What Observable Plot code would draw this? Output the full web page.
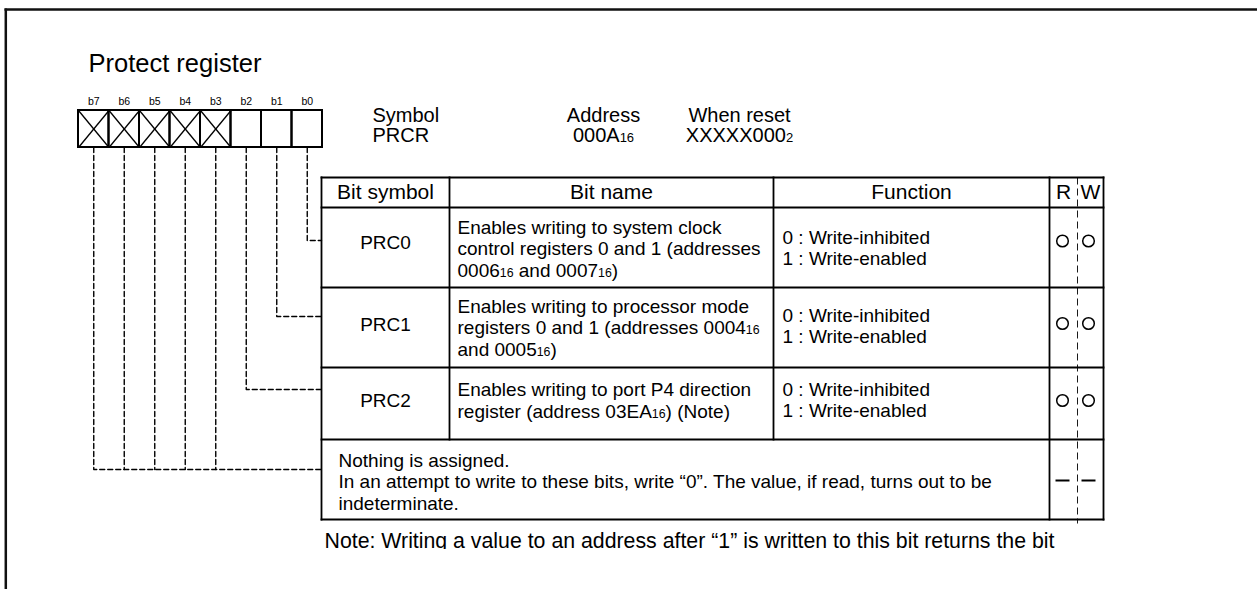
<!DOCTYPE html>
<html>
<head>
<meta charset="utf-8">
<script src="https://cdn.jsdelivr.net/npm/d3@7"></script>
<script src="https://cdn.jsdelivr.net/npm/@observablehq/plot@0.6"></script>
<style>
  html, body { margin: 0; padding: 0; background: #fff; }
  svg { display: block; }
</style>
</head>
<body>
<div id="chart"></div>
<script>
// ---------------- DATA ----------------
const title = "Protect register";
const bits = ["b7", "b6", "b5", "b4", "b3", "b2", "b1", "b0"];
const reserved = [true, true, true, true, true, false, false, false];
const bitRow = [3, 3, 3, 3, 3, 2, 1, 0]; // which table row each bit points to
const headerLabels = ["Symbol\nPRCR", "Address\n000A{16}", "When reset\nXXXXX000{2}"];
const columns = ["Bit symbol", "Bit name", "Function", "R", "W"];
const bitSymbols = ["PRC0", "PRC1", "PRC2"];
const bitNames = [
  "Enables writing to system clock\ncontrol registers 0 and 1 (addresses\n0006{16} and 0007{16})",
  "Enables writing to processor mode\nregisters 0 and 1 (addresses 0004{16}\nand 0005{16})",
  "Enables writing to port P4 direction\nregister (address 03EA{16}) (Note)"
];
const functions = [
  "0 : Write-inhibited\n1 : Write-enabled",
  "0 : Write-inhibited\n1 : Write-enabled",
  "0 : Write-inhibited\n1 : Write-enabled"
];
const readAccess = ["o", "o", "o", "-"];
const writeAccess = ["o", "o", "o", "-"];
const nothingText = "Nothing is assigned.\nIn an attempt to write to these bits, write \u201c0\u201d. The value, if read, turns out to be\nindeterminate.";
const noteText = "Note: Writing a value to an address after \u201c1\u201d is written to this bit returns the bit";

// ---------------- LAYOUT ----------------
const W = 1257, H = 589;
const FONT = "'Liberation Sans', Arial, Helvetica, sans-serif";
const reg = {x: 78, cell: 30.5, top: 110, bottom: 147, labelY: 101.5};
const colX = [321, 449, 773, 1049, 1103];
const rwMid = 1077;
const rowY = [177, 207, 287, 367, 439, 519];
const connY = [240, 316, 389, 469];
const headerX = [372, 603, 739];
const headerAnchor = ["start", "middle", "middle"];
const headerY = 125.5;
const colHeadY = 191.3;
const symbolY = [242.5, 324, 400];
const nameY = [248, 327, 399.5];
const funcY = [247.5, 325.5, 399.5];
const markY = [240.5, 323, 400, 480];
const markX = {R: 1062, W: 1088};
const nothingY = 480.7;
const noteY = 541;

// ---------------- DERIVED TABLES ----------------
const cells = bits.map((b, i) => ({
  bit: b, reserved: reserved[i], row: bitRow[i],
  x1: reg.x + i * reg.cell, x2: reg.x + (i + 1) * reg.cell, cx: reg.x + (i + 0.5) * reg.cell
}));

const crosses = [];
cells.filter(c => c.reserved).forEach(c => {
  crosses.push({x1: c.x1, y1: reg.top, x2: c.x2, y2: reg.bottom});
  crosses.push({x1: c.x1, y1: reg.bottom, x2: c.x2, y2: reg.top});
});

const connPts = [];
const firstOfLast = cells.find(c => c.row === 3);
cells.forEach(c => {
  const y = connY[c.row];
  connPts.push({bit: c.bit, x: c.cx, y: reg.bottom});
  connPts.push({bit: c.bit, x: c.cx, y: y});
  if (c.row < 3 || c === firstOfLast) connPts.push({bit: c.bit, x: colX[0], y: y});
});

const tableLines = [];
rowY.forEach(y => tableLines.push({x1: colX[0], x2: colX[4], y1: y, y2: y}));
[[colX[0], rowY[5]], [colX[1], rowY[4]], [colX[2], rowY[4]], [colX[3], rowY[5]], [colX[4], rowY[5]]]
  .forEach(([x, yb]) => tableLines.push({x1: x, x2: x, y1: rowY[0], y2: yb}));

const colCenters = [
  (colX[0] + colX[1]) / 2, (colX[1] + colX[2]) / 2, (colX[2] + colX[3]) / 2,
  (colX[3] + rwMid) / 2, (rwMid + colX[4]) / 2
];
const colHeads = columns.map((t, i) => ({text: t, x: colCenters[i]}));

const rows = bitSymbols.map((s, i) => ({symbol: s, name: bitNames[i], fn: functions[i], i}));

const access = [];
readAccess.forEach((v, i) => access.push({v, x: markX.R, y: markY[i]}));
writeAccess.forEach((v, i) => access.push({v, x: markX.W, y: markY[i]}));

const headers = headerLabels.map((t, i) => ({text: t, x: headerX[i], anchor: headerAnchor[i]}));

// ---------------- PLOT ----------------
const textBase = {fill: "#000", fontFamily: FONT, lineAnchor: "middle"};

const chart = Plot.plot({
  width: W, height: H, margin: 0,
  x: {domain: [0, W], range: [0, W], axis: null},
  y: {domain: [0, H], range: [0, H], axis: null},
  style: {fontFamily: FONT, background: "#fff", color: "#000"},
  marks: [
    // Title
    Plot.text([title], {...textBase, x: () => 88, y: () => 63.5, text: d => d, textAnchor: "start", fontSize: 25.5}),
    // Bit labels
    Plot.text(cells, {...textBase, x: "cx", y: () => reg.labelY, text: "bit", fontSize: 10.5}),
    // Register cells
    Plot.rect(cells, {x1: "x1", x2: "x2", y1: () => reg.top, y2: () => reg.bottom, fill: "none", stroke: "#000", strokeWidth: 2}),
    Plot.link(crosses, {x1: "x1", y1: "y1", x2: "x2", y2: "y2", stroke: "#000", strokeWidth: 1.3}),
    // Header info (Symbol / Address / When reset)
    Plot.text(headers.filter(h => h.anchor === "start"), {...textBase, x: "x", y: () => headerY, text: "text", textAnchor: "start", fontSize: 20, lineHeight: 1}),
    Plot.text(headers.filter(h => h.anchor === "middle"), {...textBase, x: "x", y: () => headerY, text: "text", textAnchor: "middle", fontSize: 20, lineHeight: 1}),
    // Dashed connectors
    Plot.line(connPts, {x: "x", y: "y", z: "bit", stroke: "#000", strokeWidth: 1.4, strokeDasharray: "5,3", curve: "linear"}),
    // Table grid
    Plot.link(tableLines, {x1: "x1", y1: "y1", x2: "x2", y2: "y2", stroke: "#000", strokeWidth: 1.8, strokeLinecap: "square"}),
    Plot.link([0], {x1: () => rwMid, x2: () => rwMid, y1: () => rowY[0], y2: () => rowY[5] + 4, stroke: "#000", strokeWidth: 0.9, strokeDasharray: "7,4"}),
    // Column headers
    Plot.text(colHeads, {...textBase, x: "x", y: () => colHeadY, text: "text", fontSize: 21}),
    // Rows
    Plot.text(rows, {...textBase, x: () => colCenters[0], y: d => symbolY[d.i], text: "symbol", fontSize: 19}),
    Plot.text(rows, {...textBase, x: () => colX[1] + 8, y: d => nameY[d.i], text: "name", textAnchor: "start", fontSize: 19, lineHeight: 1.13}),
    Plot.text(rows, {...textBase, x: () => colX[2] + 9, y: d => funcY[d.i], text: "fn", textAnchor: "start", fontSize: 19, lineHeight: 1.1}),
    // Access marks
    Plot.dot(access.filter(a => a.v === "o"), {x: "x", y: "y", r: 5.8, stroke: "#000", fill: "none", strokeWidth: 1.5}),
    Plot.link(access.filter(a => a.v === "-"), {x1: d => d.x - 7, x2: d => d.x + 7, y1: "y", y2: "y", stroke: "#000", strokeWidth: 2}),
    // Reserved row text
    Plot.text([nothingText], {...textBase, x: () => colX[0] + 17, y: () => nothingY, text: d => d, textAnchor: "start", fontSize: 19, lineHeight: 1.13}),
    // Note
    Plot.text([noteText], {...textBase, x: () => 324, y: () => noteY, text: d => d, textAnchor: "start", fontSize: 21.3}),
    // crop of the page (note is cut off)
    Plot.rect([0], {x1: () => 8, x2: () => W, y1: () => 549, y2: () => H, fill: "#fff"}),
    // Page frame
    Plot.link([0], {x1: () => 4, x2: () => W, y1: () => 9, y2: () => 9, stroke: "#111", strokeWidth: 2.5}),
    Plot.link([0], {x1: () => 5.3, x2: () => 5.3, y1: () => 8, y2: () => H, stroke: "#111", strokeWidth: 2.5})
  ]
});

// Render {nn} as small (subscript-style) digits
function applySubscripts(root) {
  root.querySelectorAll("text, tspan").forEach(el => {
    if (el.children.length) return;
    const s = el.textContent;
    if (!/\{[^}]*\}/.test(s)) return;
    el.textContent = "";
    const re = /\{([^}]*)\}/g;
    let last = 0, m;
    while ((m = re.exec(s))) {
      if (m.index > last) el.appendChild(document.createTextNode(s.slice(last, m.index)));
      const t = document.createElementNS("http://www.w3.org/2000/svg", "tspan");
      t.style.fontSize = "0.65em";
      t.textContent = m[1];
      el.appendChild(t);
      last = re.lastIndex;
    }
    if (last < s.length) el.appendChild(document.createTextNode(s.slice(last)));
  });
}
applySubscripts(chart);
document.getElementById("chart").appendChild(chart);
</script>
</body>
</html>
